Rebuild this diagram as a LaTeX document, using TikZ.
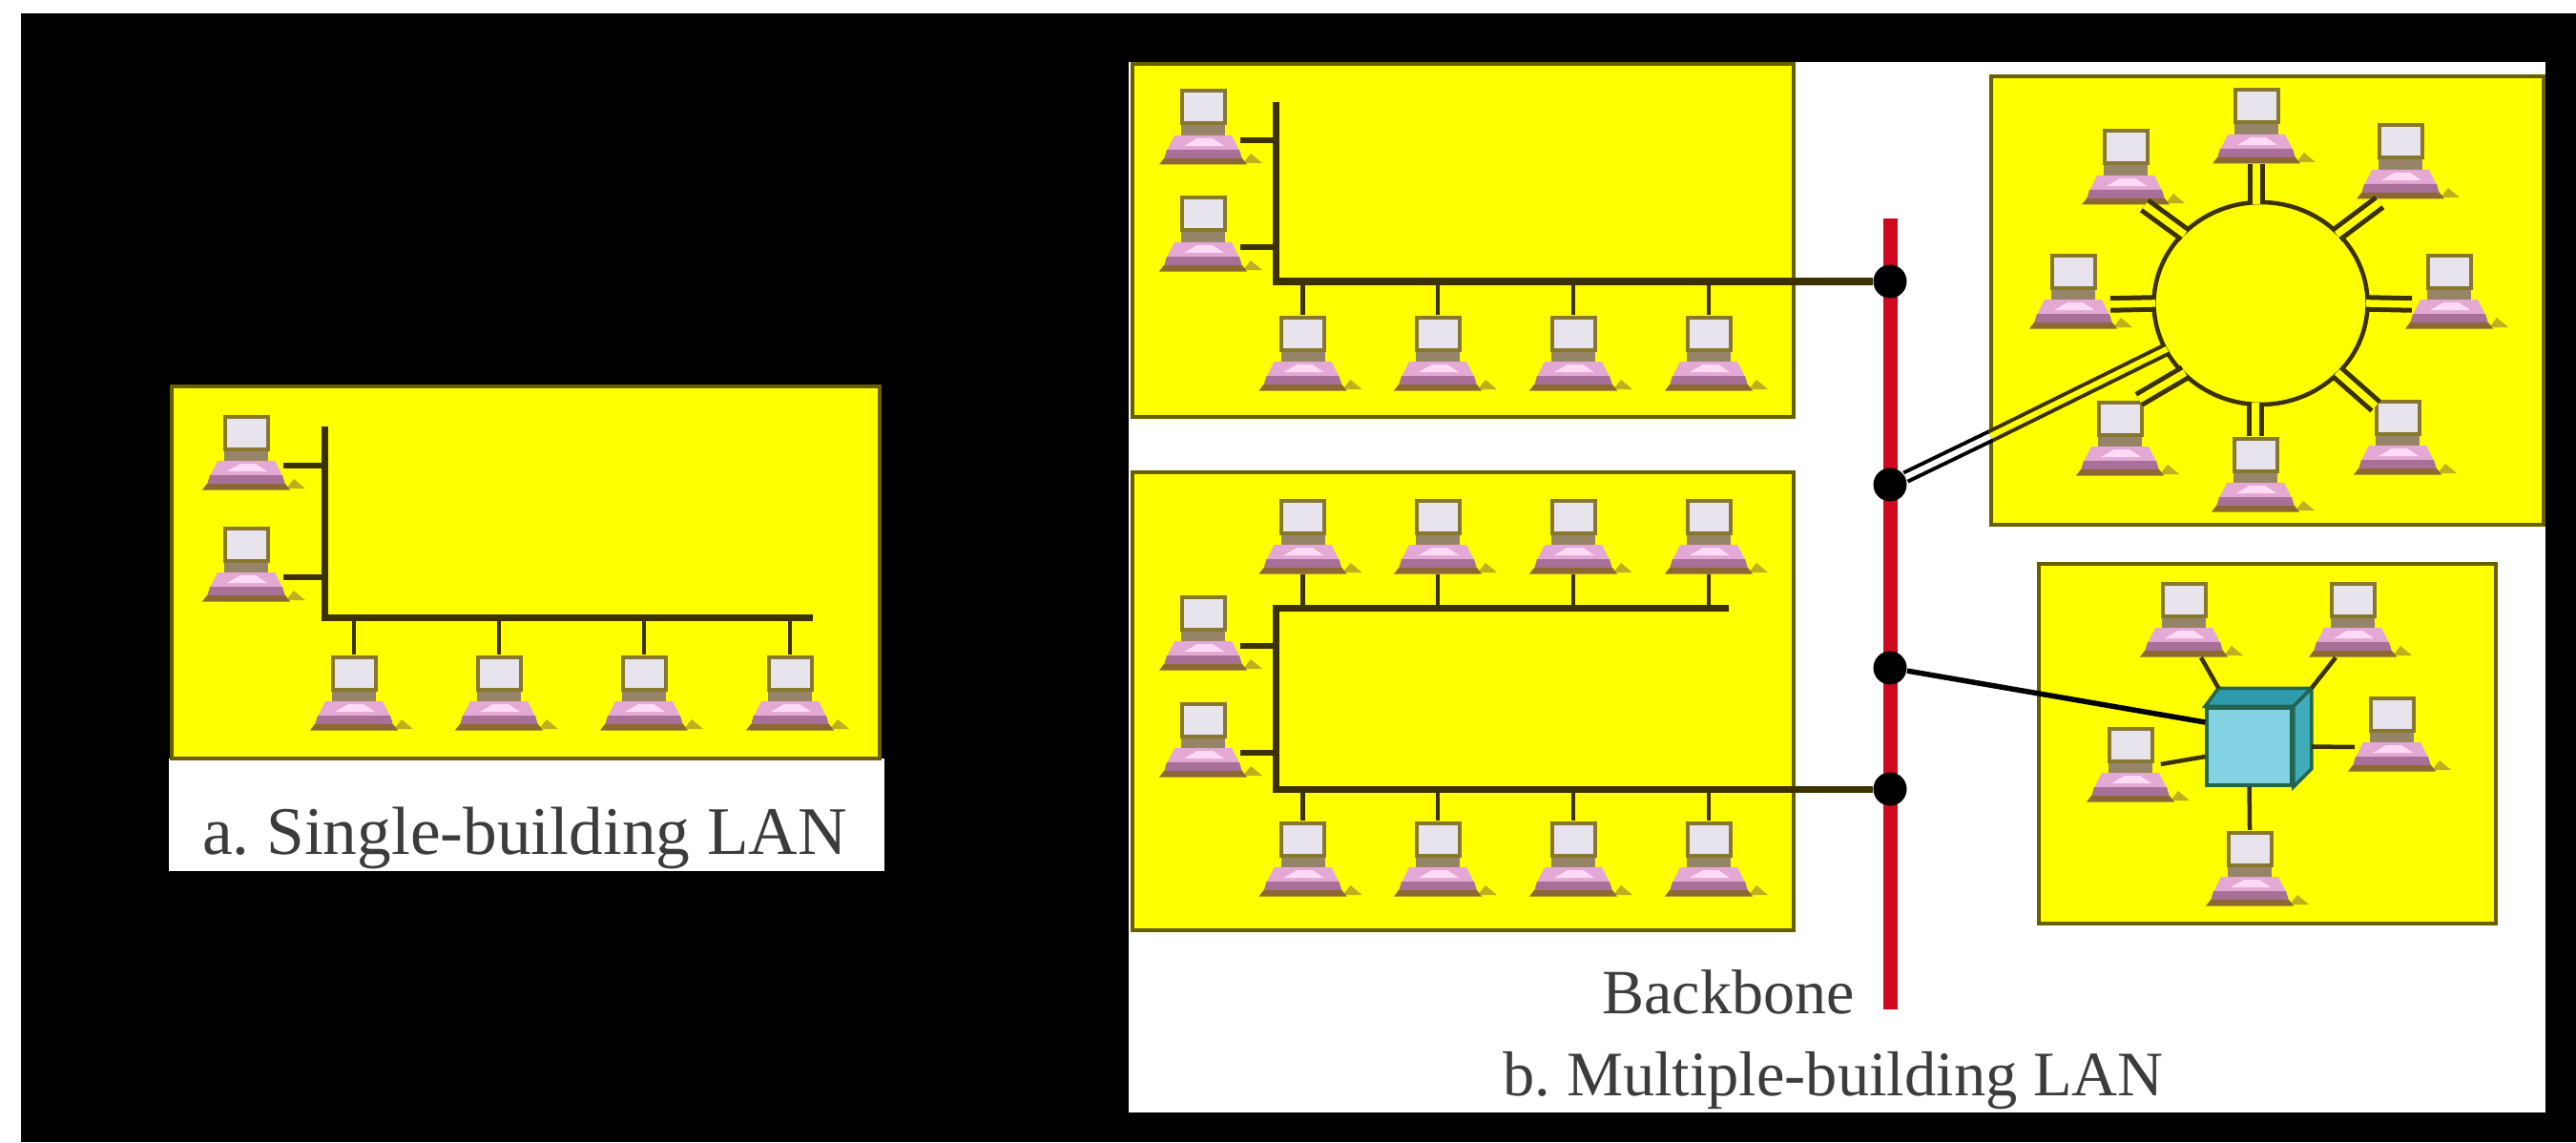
\documentclass[tikz,border=0pt]{standalone}
\usepackage{fontspec}
\setmainfont{Liberation Serif}
\usetikzlibrary{shapes.geometric}

\definecolor{buildingYellow}{RGB}{255,255,0}
\definecolor{boxEdge}{RGB}{105,95,0}
\definecolor{wireDark}{RGB}{60,50,0}
\definecolor{backboneRed}{RGB}{205,10,30}
\definecolor{hubFront}{RGB}{130,210,228}
\definecolor{hubTop}{RGB}{45,155,172}
\definecolor{hubSide}{RGB}{62,170,186}
\definecolor{hubEdge}{RGB}{35,100,80}

\tikzset{
    building/.style={draw=boxEdge, fill=buildingYellow, line width=0.04cm},
    bus/.style={draw=wireDark, line width=0.07cm},
    stem/.style={draw=wireDark, line width=0.045cm},
    stub/.style={draw=wireDark, line width=0.055cm},
    ringStub/.style={draw=wireDark, line width=0.05cm, double=buildingYellow, double distance=0.075cm, shorten >=-0.04cm},
    pcBox/.style={inner sep=0, minimum width=0.92cm, minimum height=0.79cm},
    tap/.style={circle, fill=black, inner sep=0, minimum size=0.35cm},
    computer/.pic={
        \node[pcBox] (-pc) at (0,0) {};
        \coordinate (-east) at (0.39,-0.14);
        \coordinate (-west) at (-0.39,-0.14);
        \fill[fill={rgb,255:red,190;green,175;blue,30}] (0.42,-0.38) -- (0.62,-0.38) -- (0.5,-0.28) -- cycle;
        \fill[fill={rgb,255:red,150;green,132;blue,105}] (-0.23,0.02) rectangle (0.23,-0.1);
        \fill[fill={rgb,255:red,228;green,168;blue,212}] (-0.38,-0.25) -- (0.38,-0.25) -- (0.3,-0.09) -- (-0.3,-0.09) -- cycle;
        \fill[fill={rgb,255:red,255;green,218;blue,246}] (-0.2,-0.2) -- (0.22,-0.2) -- (0.1,-0.12) -- (-0.06,-0.12) -- cycle;
        \fill[fill={rgb,255:red,168;green,112;blue,152}] (-0.41,-0.34) -- (0.41,-0.34) -- (0.38,-0.24) -- (-0.38,-0.24) -- cycle;
        \fill[fill={rgb,255:red,140;green,105;blue,50}] (-0.46,-0.395) -- (0.46,-0.395) -- (0.41,-0.33) -- (-0.41,-0.33) -- cycle;
        \draw[draw={rgb,255:red,135;green,120;blue,45}, fill={rgb,255:red,232;green,228;blue,238}, line width=0.04cm] (-0.225,0.035) rectangle (0.225,0.375);
    }
}

\begin{document}
\begin{tikzpicture}
\useasboundingbox (0,0) rectangle (27,11.97);
\fill[white] (0,0) rectangle (27,11.97);
\fill[black] (0.22,0) rectangle (27,11.83);
\fill[white] (11.83,0.31) rectangle (26.68,11.32);
\fill[white] (1.77,2.84) rectangle (9.27,4.02);

\draw[building] (1.8,4.02) rectangle (9.22,7.92);
\draw[building] (11.87,7.6) rectangle (18.8,11.3);
\draw[building] (11.87,2.22) rectangle (18.8,7.02);
\draw[building] (20.865,6.47) rectangle (26.66,11.17);
\draw[building] (21.365,2.29) rectangle (26.16,6.06);

\pic (aPc1) at (2.58,7.23) {computer};
\pic (aPc2) at (2.58,6.06) {computer};
\pic (aPc3) at (3.71,4.71) {computer};
\pic (aPc4) at (5.23,4.71) {computer};
\pic (aPc5) at (6.75,4.71) {computer};
\pic (aPc6) at (8.28,4.71) {computer};

\pic (bPc1) at (12.61,10.64) {computer};
\pic (bPc2) at (12.61,9.52) {computer};
\pic (bPc3) at (13.655,8.27) {computer};
\pic (bPc4) at (15.07,8.27) {computer};
\pic (bPc5) at (16.49,8.27) {computer};
\pic (bPc6) at (17.91,8.27) {computer};

\pic (cPc1) at (13.655,6.35) {computer};
\pic (cPc2) at (15.07,6.35) {computer};
\pic (cPc3) at (16.49,6.35) {computer};
\pic (cPc4) at (17.91,6.35) {computer};
\pic (cPc5) at (12.61,5.34) {computer};
\pic (cPc6) at (12.61,4.22) {computer};
\pic (cPc7) at (13.655,2.97) {computer};
\pic (cPc8) at (15.07,2.97) {computer};
\pic (cPc9) at (16.49,2.97) {computer};
\pic (cPc10) at (17.91,2.97) {computer};

\pic (ringPc1) at (23.65,10.65) {computer};
\pic (ringPc2) at (22.28,10.22) {computer};
\pic (ringPc3) at (25.16,10.28) {computer};
\pic (ringPc4) at (21.73,8.92) {computer};
\pic (ringPc5) at (25.67,8.92) {computer};
\pic (ringPc6) at (22.22,7.38) {computer};
\pic (ringPc7) at (25.13,7.39) {computer};
\pic (ringPc8) at (23.64,7) {computer};

\pic (hubPc1) at (22.89,5.48) {computer};
\pic (hubPc2) at (24.66,5.48) {computer};
\pic (hubPc3) at (22.33,3.96) {computer};
\pic (hubPc4) at (25.07,4.28) {computer};
\pic (hubPc5) at (23.58,2.87) {computer};

\coordinate (aTop) at (3.4,7.5);
\coordinate (aCorner) at (3.4,5.5);
\coordinate (aEnd) at (8.52,5.5);
\draw[bus] (aTop) -- (aCorner) -- (aEnd);
\draw[stub] (aPc1-east) -- (aPc1-east -| aCorner);
\draw[stub] (aPc2-east) -- (aPc2-east -| aCorner);
\draw[stem] (aPc3-pc.north) -- (aPc3-pc.north |- aCorner);
\draw[stem] (aPc4-pc.north) -- (aPc4-pc.north |- aCorner);
\draw[stem] (aPc5-pc.north) -- (aPc5-pc.north |- aCorner);
\draw[stem] (aPc6-pc.north) -- (aPc6-pc.north |- aCorner);

\coordinate (trunkTop) at (19.81,9.68);
\coordinate (trunkEnd) at (19.81,1.39);
\draw[backboneRed, line width=0.15cm] (trunkTop) -- (trunkEnd);
\node[tap] (tapA) at (19.81,9.02) {};
\node[tap] (tapB) at (19.81,6.89) {};
\node[tap] (tapC) at (19.81,4.97) {};
\node[tap] (tapD) at (19.81,3.7) {};

\coordinate (bTop) at (13.37,10.9);
\coordinate (bCorner) at (13.37,9.02);
\draw[bus] (bTop) -- (bCorner) -- (tapA);
\draw[stub] (bPc1-east) -- (bPc1-east -| bCorner);
\draw[stub] (bPc2-east) -- (bPc2-east -| bCorner);
\draw[stem] (bPc3-pc.north) -- (bPc3-pc.north |- bCorner);
\draw[stem] (bPc4-pc.north) -- (bPc4-pc.north |- bCorner);
\draw[stem] (bPc5-pc.north) -- (bPc5-pc.north |- bCorner);
\draw[stem] (bPc6-pc.north) -- (bPc6-pc.north |- bCorner);

\coordinate (cEnd) at (18.12,5.6);
\coordinate (cUpper) at (13.37,5.6);
\coordinate (cLower) at (13.37,3.7);
\draw[bus] (cEnd) -- (cUpper) -- (cLower) -- (tapD);
\draw[stem] (cPc1-pc.south) -- (cPc1-pc.south |- cUpper);
\draw[stem] (cPc2-pc.south) -- (cPc2-pc.south |- cUpper);
\draw[stem] (cPc3-pc.south) -- (cPc3-pc.south |- cUpper);
\draw[stem] (cPc4-pc.south) -- (cPc4-pc.south |- cUpper);
\draw[stub] (cPc5-east) -- (cPc5-east -| cUpper);
\draw[stub] (cPc6-east) -- (cPc6-east -| cUpper);
\draw[stem] (cPc7-pc.north) -- (cPc7-pc.north |- cLower);
\draw[stem] (cPc8-pc.north) -- (cPc8-pc.north |- cLower);
\draw[stem] (cPc9-pc.north) -- (cPc9-pc.north |- cLower);
\draw[stem] (cPc10-pc.north) -- (cPc10-pc.north |- cLower);

\node[ellipse, draw=wireDark, line width=0.045cm, inner sep=0, minimum width=2.24cm, minimum height=2.12cm] (ring) at (23.695,8.79) {};
\draw[ringStub] (ringPc1-pc.south) -- (ringPc1-pc.south |- ring.north);
\draw[ringStub] ([xshift=2mm]ringPc2-pc.south) -- (ring.138);
\draw[ringStub] ([shift={(-0.22,-0.03)}]ringPc3-pc.south) -- (ring.42);
\draw[ringStub] (ringPc4-east) -- (ring.west);
\draw[ringStub] (ringPc5-west) -- (ring.east);
\draw[ringStub] ([xshift=2mm]ringPc6-pc.north) -- (ring.222);
\draw[ringStub] ([shift={(-0.23,-0.08)}]ringPc7-pc.north) -- (ring.318);
\draw[ringStub] (ringPc8-pc.north) -- (ringPc8-pc.north |- ring.south);

\coordinate (ringEdge) at (20.865,7.4);
\draw[draw=black, line width=0.04cm, double=white, double distance=0.06cm] (tapB) -- (ringEdge);
\draw[draw=wireDark, line width=0.04cm, double=buildingYellow, double distance=0.06cm, shorten >=-0.04cm] (ringEdge) -- (ring.206);

\node[draw=hubEdge, fill=hubFront, line width=0.035cm, inner sep=0, minimum width=0.89cm, minimum height=0.81cm] (hub) at (23.575,4.145) {};
\coordinate (hubBackL) at ([shift={(0.14,0.19)}]hub.north west);
\coordinate (hubBackR) at ([shift={(0.19,0.19)}]hub.north east);
\coordinate (hubBackD) at ([shift={(0.19,0.19)}]hub.south east);
\draw[draw=hubEdge, fill=hubTop, line width=0.035cm] (hub.north west) -- (hubBackL) -- (hubBackR) -- (hub.north east) -- cycle;
\draw[draw=hubEdge, fill=hubSide, line width=0.035cm] (hub.north east) -- (hubBackR) -- (hubBackD) -- (hub.south east) -- cycle;
\draw[stem] ([xshift=1.8mm]hubPc1-pc.south) -- (hubBackL);
\draw[stem] ([xshift=-1.8mm]hubPc2-pc.south) -- (hubBackR);
\draw[stem] ([xshift=-1.5mm]hubPc3-pc.east) -- ([yshift=-1.05mm]hub.west);
\draw[stem] (hubPc4-west) -- ([xshift=1.9mm]hub.east);
\draw[stem] (hub.south) -- (hubPc5-pc.north);
\draw[draw=black, line width=0.055cm] (tapC) -- ([yshift=2.55mm]hub.west);

\node[anchor=base, text={rgb,255:red,60;green,60;blue,60}, font=\fontsize{20.3}{24}\selectfont] (aLabel) at (5.5,3.02) {a.\ Single-building LAN};
\node[anchor=base, text={rgb,255:red,60;green,60;blue,60}, font=\fontsize{18.9}{23}\selectfont] (bLabel) at (19.215,0.49) {b.\ Multiple-building LAN};
\node[anchor=base, text={rgb,255:red,60;green,60;blue,60}, font=\fontsize{18.8}{23}\selectfont] (backboneLabel) at (18.115,1.35) {Backbone};

\end{tikzpicture}
\end{document}
